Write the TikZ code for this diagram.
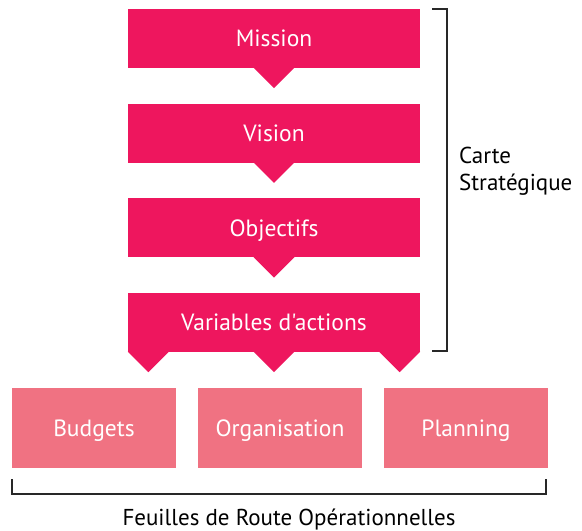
\documentclass[tikz,border=0pt]{standalone}
\usepackage{fontspec}
\setmainfont{PT Sans}[Ligatures=TeXOff]
\usetikzlibrary{calc}
\definecolor{hotpink}{RGB}{238,22,94}
\definecolor{softpink}{RGB}{240,114,130}
\definecolor{bracketgray}{RGB}{40,40,40}
\tikzset{
  topbox/.style={fill=hotpink, draw=none, minimum width=292pt, minimum height=59pt, inner sep=0pt, text height=16.5pt, text depth=0pt, text=white, font=\fontsize{23.5}{28}\selectfont},
  botbox/.style={fill=softpink, draw=none, minimum width=164pt, minimum height=80pt, inner sep=0pt, text height=17.5pt, text depth=0pt, text=white, font=\fontsize{23.5}{28}\selectfont},
  pointer/.style={fill=hotpink},
  bracket/.style={draw=bracketgray, line width=1.4pt},
  label/.style={text=black, font=\fontsize{23}{27}\selectfont, inner sep=0pt}
}
\begin{document}
\begin{tikzpicture}[x=1pt,y=-1pt]
\useasboundingbox (0,0) rectangle (582,531);
\node[topbox] (mission) at (274,38.5) {Mission};
\node[topbox] (vision) at (274,133.2) {Vision};
\node[topbox] (objectifs) at (274,227.8) {Objectifs};
\node[topbox] (variables) at (274,322.5) {Variables d'actions};
\foreach \n in {mission,vision,objectifs}{
  \fill[pointer] ($(\n.south)+(-20.5,-0.5)$) -- ($(\n.south)+(20.5,-0.5)$) -- ($(\n.south)+(0,20)$) -- cycle;
}
\fill[pointer] ($(variables.south west)+(0,-0.5)$) -- ($(variables.south west)+(41,-0.5)$) -- ($(variables.south west)+(20.5,20)$) -- cycle;
\fill[pointer] ($(variables.south)+(-20.5,-0.5)$) -- ($(variables.south)+(20.5,-0.5)$) -- ($(variables.south)+(0,20)$) -- cycle;
\fill[pointer] ($(variables.south east)+(-41,-0.5)$) -- ($(variables.south east)+(0,-0.5)$) -- ($(variables.south east)+(-20.5,20)$) -- cycle;
\node[botbox] (budgets) at (94,428) {Budgets};
\node[botbox] (organisation) at (280,428) {Organisation};
\node[botbox] (planning) at (466,428) {Planning};
\coordinate (rt) at (432,9);
\coordinate (rb) at (432,351);
\draw[bracket] (rt) -- (447,9) -- (447,351) -- (rb);
\coordinate (bl) at (12,479);
\coordinate (br) at (546,479);
\draw[bracket] (bl) -- (12,494) -- (546,494) -- (br);
\node[label, anchor=west, align=left] (carte) at (459,171) {Carte\\Stratégique};
\node[label, anchor=base] (feuilles) at (289,525) {Feuilles de Route Opérationnelles};
\end{tikzpicture}
\end{document}
